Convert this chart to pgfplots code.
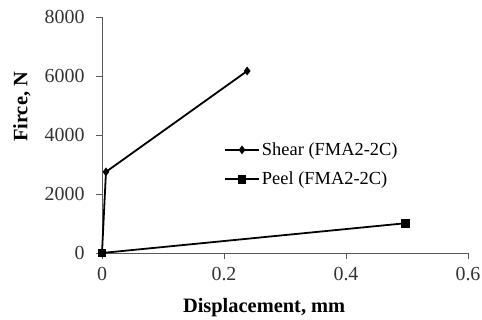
\documentclass[border=0pt]{standalone}
\usepackage{pgfplots}
\pgfplotsset{compat=1.18}
\usepackage{fontspec}
\setmainfont{Liberation Serif}
\begin{document}
\begin{tikzpicture}
\begin{axis}[
  scale only axis,
  width=366bp, height=236bp,
  xmin=0, xmax=0.6, ymin=0, ymax=8000,
  xtick={0,0.2,0.4,0.6}, ytick={0,2000,4000,6000,8000},
  axis x line*=bottom, axis y line*=left,
  axis line style={black!65, line width=0.8pt},
  tick style={black!65, line width=0.8pt},
  tick align=outside,
  major tick length=6bp,
  /pgf/number format/assume math mode=true,
  /pgf/number format/1000 sep={},
  xticklabel style={font=\fontsize{20}{22}\selectfont, text=black!80, yshift=-5bp},
  yticklabel style={font=\fontsize{20}{22}\selectfont, text=black!80, xshift=-8bp},
  xticklabel={\pgfmathprintnumber[fixed,precision=1]{\tick}},
  xlabel={\textbf{Displacement, mm}},
  ylabel={\textbf{Firce, N}},
  label style={font=\fontsize{20.5}{22}\selectfont},
  xlabel style={at={(axis description cs:0.443,-0.232)}, anchor=center},
  ylabel style={at={(axis description cs:-0.219,0.619)}, anchor=center},
  legend style={draw=none, fill=none, at={(0.325,0.375)}, anchor=west,
    font=\fontsize{18.5}{20}\selectfont, row sep=11bp},
  legend cell align=left,
  legend image code/.code={\draw[mark repeat=2,mark phase=2,#1] plot coordinates {(0cm,0cm) (0.6cm,0cm) (1.2cm,0cm)};},
  clip=false,
]
\addplot[black, line width=1.8pt, mark=diamond*, mark size=3pt] coordinates {(0,0) (0.0065,2750) (0.238,6170)};
\addlegendentry{Shear (FMA2-2C)}
\addplot[black, line width=1.8pt, mark=square*, mark size=3.5pt] coordinates {(0,0) (0.498,1010)};
\addlegendentry{Peel (FMA2-2C)}
\end{axis}
\pgfresetboundingbox
\useasboundingbox (-102bp,-67bp) rectangle (380bp,253bp);
\end{tikzpicture}
\end{document}
